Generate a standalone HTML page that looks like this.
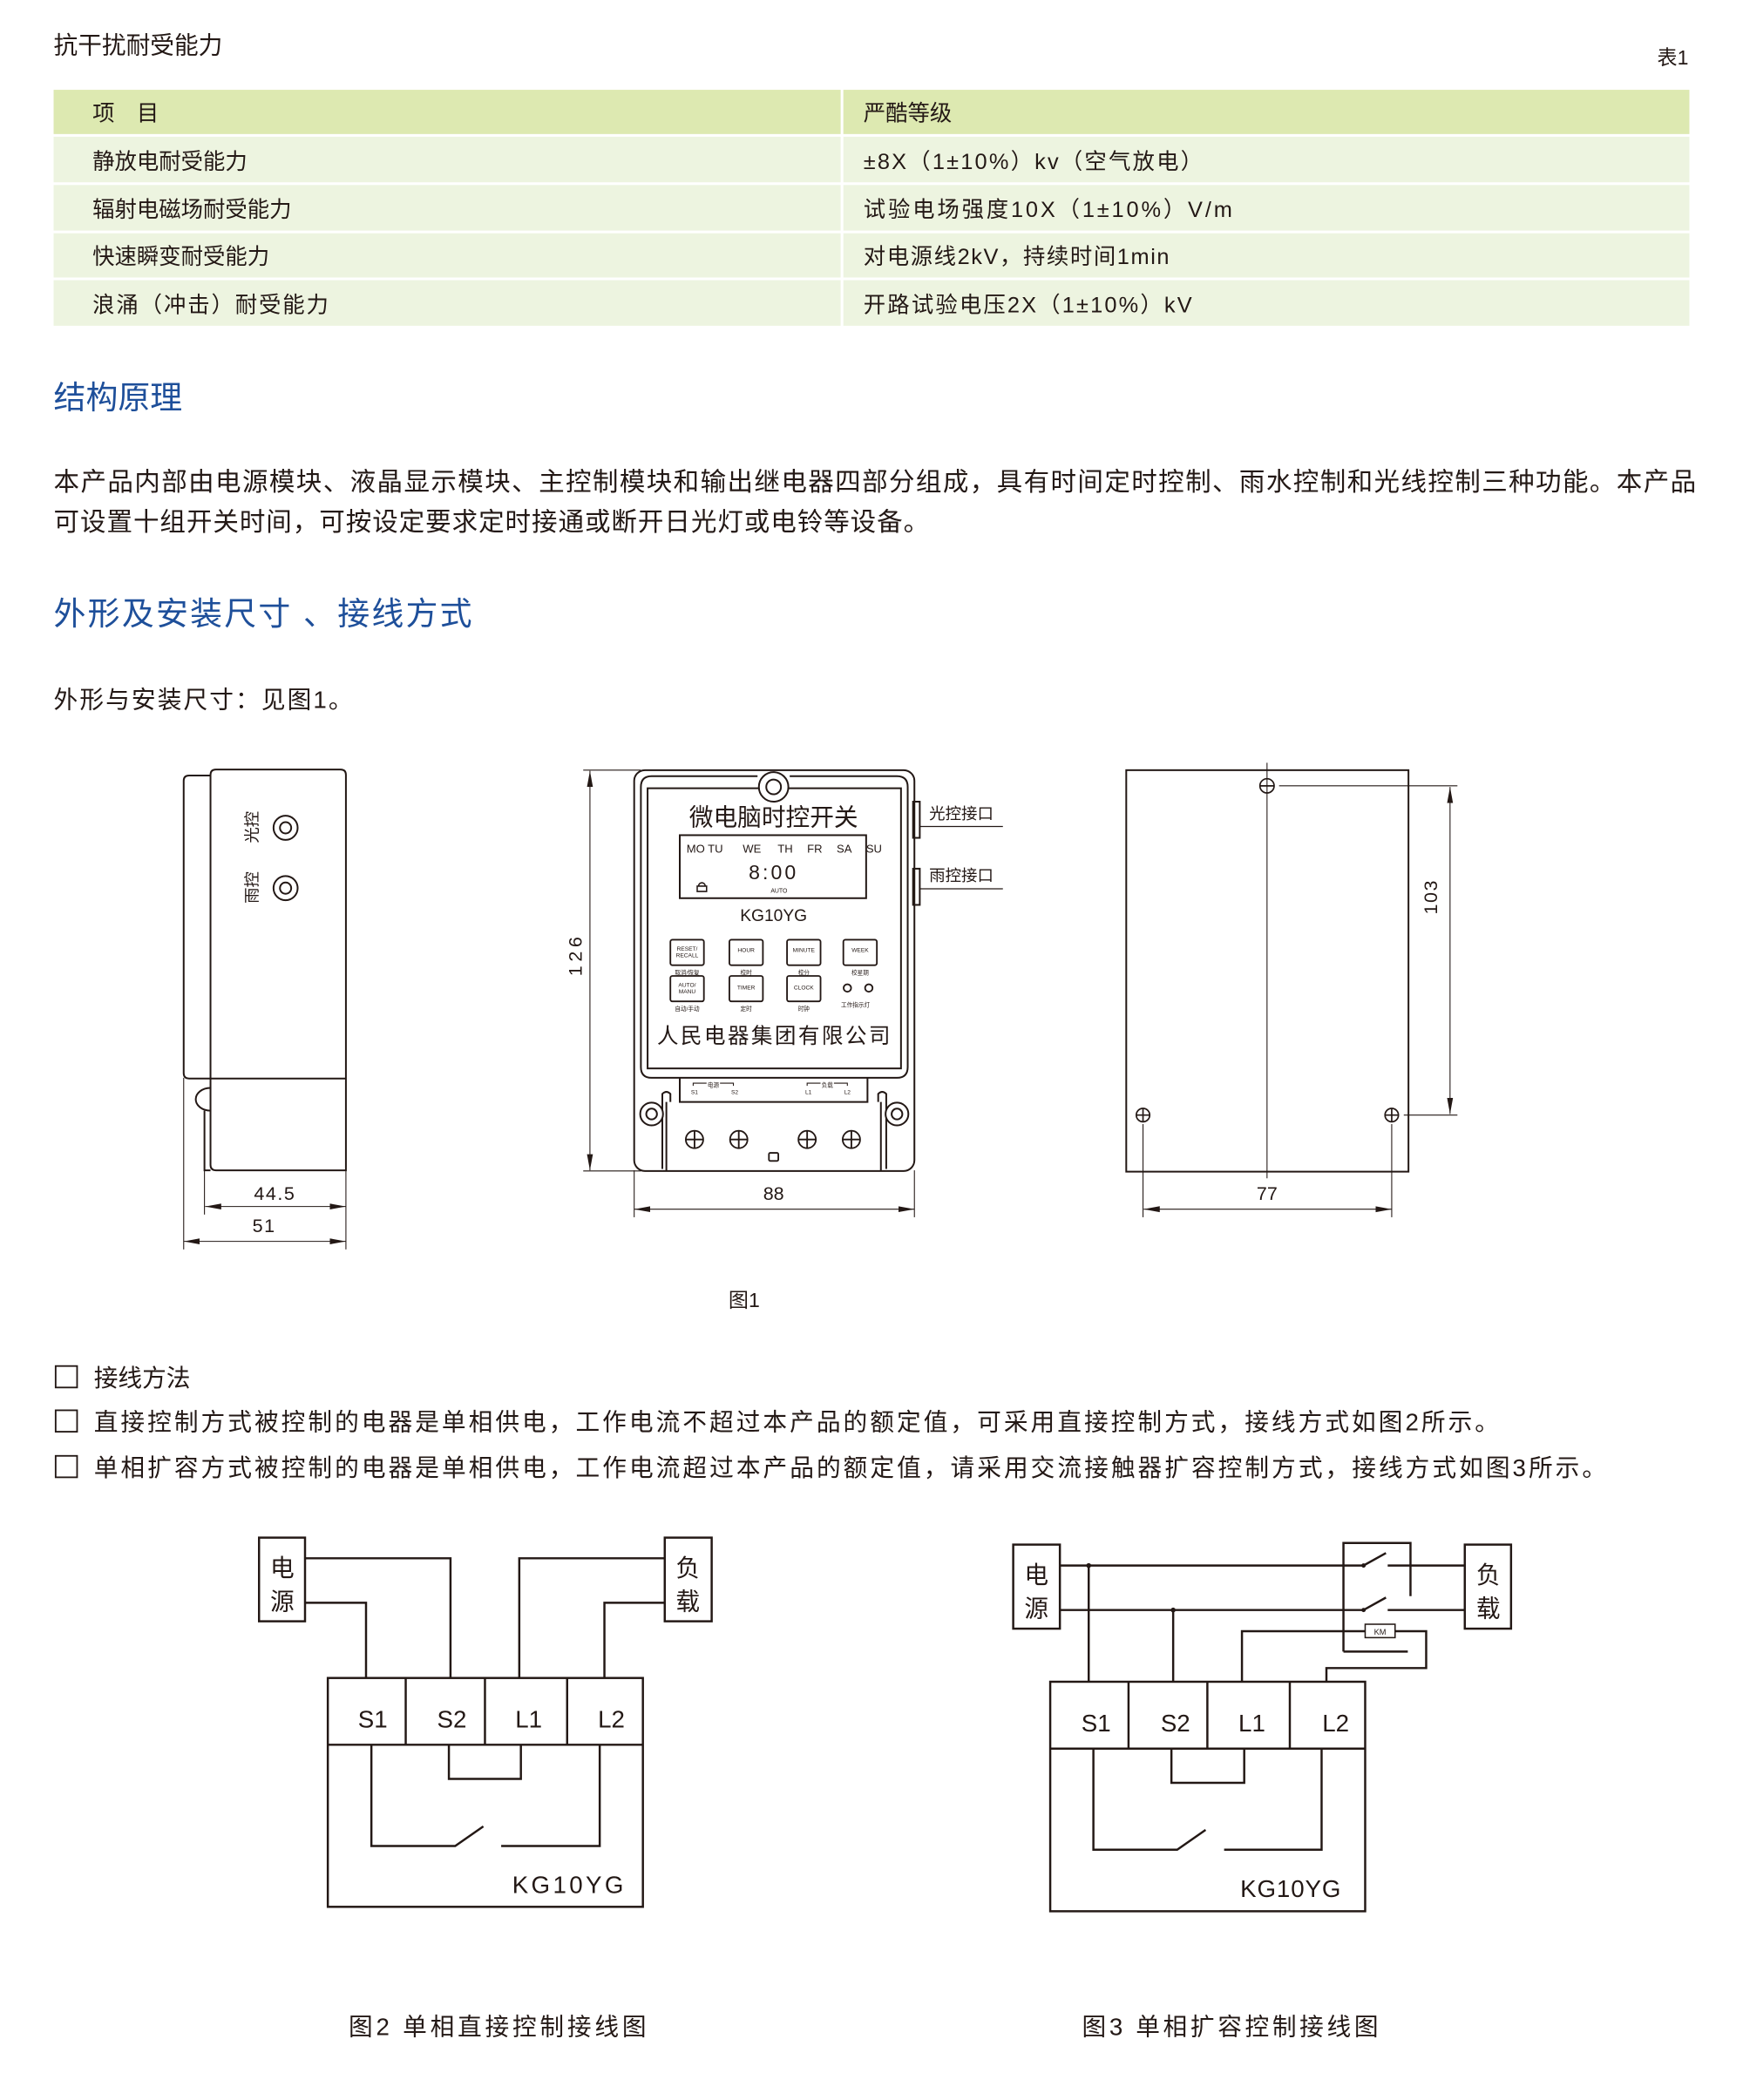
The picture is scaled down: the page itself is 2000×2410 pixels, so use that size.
<!DOCTYPE html>
<html><head><meta charset="utf-8"><style>
html,body{margin:0;padding:0;background:#fff;}
svg{display:block;}
text{font-family:"Liberation Sans","Noto Sans CJK SC",sans-serif;fill:#231815;}
</style></head><body>
<svg width="2000" height="2410" viewBox="0 0 1300 1566.5" xmlns="http://www.w3.org/2000/svg">
<defs>
<marker id="ar" viewBox="0 0 12 6" refX="12" refY="3" markerWidth="12" markerHeight="6" markerUnits="userSpaceOnUse" orient="auto-start-reverse"><path d="M0,0.8 L12,3 L0,5.2 Z" fill="#231815"/></marker>
</defs>

<text x="40" y="40" font-size="18">抗干扰耐受能力</text>
<text x="1236" y="48" font-size="15">表1</text>

<rect x="40" y="67" width="587" height="33" fill="#dde9b1"/>
<rect x="629" y="67" width="631" height="33" fill="#dde9b1"/>
<g fill="#edf4e0">
<rect x="40" y="102" width="587" height="34"/><rect x="629" y="102" width="631" height="34"/>
<rect x="40" y="138" width="587" height="34"/><rect x="629" y="138" width="631" height="34"/>
<rect x="40" y="174" width="587" height="33"/><rect x="629" y="174" width="631" height="33"/>
<rect x="40" y="209" width="587" height="34"/><rect x="629" y="209" width="631" height="34"/>
</g>
<g font-size="16.5">
<text x="69" y="90">项　目</text><text x="644" y="90">严酷等级</text>
<text x="69" y="126">静放电耐受能力</text><text x="644" y="126" textLength="253">±8X（1±10%）kv（空气放电）</text>
<text x="69" y="162">辐射电磁场耐受能力</text><text x="644" y="162" textLength="275">试验电场强度10X（1±10%）V/m</text>
<text x="69" y="197">快速瞬变耐受能力</text><text x="644" y="197" textLength="228">对电源线2kV，持续时间1min</text>
<text x="69" y="233" textLength="176">浪涌（冲击）耐受能力</text><text x="644" y="233" textLength="245">开路试验电压2X（1±10%）kV</text>
</g>

<text x="40" y="305" font-size="24" style="fill:#1e4f9a">结构原理</text>
<text x="40" y="366" font-size="19.2" textLength="1225">本产品内部由电源模块、液晶显示模块、主控制模块和输出继电器四部分组成，具有时间定时控制、雨水控制和光线控制三种功能。本产品</text>
<text x="40" y="396" font-size="19.2" textLength="653">可设置十组开关时间，可按设定要求定时接通或断开日光灯或电铃等设备。</text>
<text x="40" y="466" font-size="24" style="fill:#1e4f9a" textLength="312">外形及安装尺寸 、接线方式</text>
<text x="40" y="528" font-size="18" textLength="223">外形与安装尺寸：见图1。</text>

<g fill="none" stroke="#231815" stroke-width="1.3">
<path d="M157,578.5 H141 Q137,578.5 137,582.5 V800.5 Q137,804.5 141,804.5 H258"/>
<path d="M161,574 H254 Q258,574 258,578 V873 H161 Q157,873 157,869 V578 Q157,574 161,574 Z"/>
<path d="M157,811.5 A11,8.5 0 0,0 157,828.5"/>
<path d="M152.5,828.5 V873 H157"/>
<circle cx="213" cy="617.5" r="9"/><circle cx="213" cy="617.5" r="4.2"/>
<circle cx="213" cy="662.5" r="9"/><circle cx="213" cy="662.5" r="4.2"/>
<g stroke-width="0.7">
<line x1="137" y1="804" x2="137" y2="932"/><line x1="152.5" y1="873" x2="152.5" y2="906"/><line x1="258" y1="873" x2="258" y2="932"/>
<line x1="153" y1="900" x2="258" y2="900" marker-start="url(#ar)" marker-end="url(#ar)"/>
<line x1="137" y1="926" x2="258" y2="926" marker-start="url(#ar)" marker-end="url(#ar)"/>
</g>

<rect x="473" y="574.5" width="209" height="299" rx="8"/>
<path d="M486,579 H565 M589,579 H669 Q677,579 677,587 V796 Q677,804 669,804 H486 Q478,804 478,796 V587 Q478,579 486,579"/>
<rect x="483" y="588" width="189" height="209"/>
<circle cx="577" cy="587" r="11" fill="#fff"/><circle cx="577" cy="587" r="5.5"/>
<rect x="507" y="623" width="139" height="47"/>
<rect x="681" y="598" width="5" height="27"/><rect x="681" y="648" width="5" height="27"/>
<line x1="686" y1="616.5" x2="748" y2="616.5" stroke-width="0.8"/>
<line x1="686" y1="663" x2="748" y2="663" stroke-width="0.8"/>
<g stroke-width="1.2">
<rect x="500" y="701" width="25" height="19" rx="1.5"/><rect x="544" y="701" width="25" height="19" rx="1.5"/>
<rect x="587" y="701" width="25" height="19" rx="1.5"/><rect x="629" y="701" width="25" height="19" rx="1.5"/>
<rect x="500" y="728" width="25" height="19" rx="1.5"/><rect x="544" y="728" width="25" height="19" rx="1.5"/>
<rect x="587" y="728" width="25" height="19" rx="1.5"/>
<circle cx="632" cy="737" r="2.8"/><circle cx="648" cy="737" r="2.8"/>
</g>
<path d="M521,661 a2.5,2.5 0 0,1 5,0 M520,661 h7 v4 h-7 z" stroke-width="1"/>
<path d="M507,804 V822 H647 V804"/>
<path d="M497,822 V873 M657,822 V873"/>
<path d="M494,872 V816 Q497,813 500,816 V822" />
<path d="M661,872 V816 Q658,813 655,816 V822" />
<circle cx="486" cy="831" r="8.5" fill="#fff"/><circle cx="486" cy="831" r="4"/>
<circle cx="669" cy="831" r="8.5" fill="#fff"/><circle cx="669" cy="831" r="4"/>
<g stroke-width="1.2">
<circle cx="518" cy="850" r="6.5"/><path d="M511.5,850 H524.5 M518,843.5 V856.5"/>
<circle cx="551" cy="850" r="6.5"/><path d="M544.5,850 H557.5 M551,843.5 V856.5"/>
<circle cx="602" cy="850" r="6.5"/><path d="M595.5,850 H608.5 M602,843.5 V856.5"/>
<circle cx="635" cy="850" r="6.5"/><path d="M628.5,850 H641.5 M635,843.5 V856.5"/>
<rect x="573.5" y="860" width="7" height="6" rx="1"/>
</g>
<path d="M517,810 V808 H527 M537,808 H547 V810 M602,810 V808 H612 M622,808 H632 V810" stroke-width="0.7"/>
<g stroke-width="0.7">
<line x1="435" y1="574.5" x2="478" y2="574.5"/><line x1="435" y1="873.5" x2="478" y2="873.5"/>
<line x1="440" y1="575" x2="440" y2="873" marker-start="url(#ar)" marker-end="url(#ar)"/>
<line x1="473" y1="873" x2="473" y2="908"/><line x1="682" y1="873" x2="682" y2="908"/>
<line x1="473" y1="902" x2="682" y2="902" marker-start="url(#ar)" marker-end="url(#ar)"/>
</g>

<rect x="840" y="574.5" width="210.5" height="299.5"/>
<g stroke-width="1.1">
<circle cx="945" cy="586.2" r="5.3"/><path d="M939.7,586.2 H950.3"/>
<circle cx="852.5" cy="831.8" r="5"/><path d="M847.5,831.8 H857.5 M852.5,826.8 V836.8"/>
<circle cx="1038" cy="831.8" r="5"/><path d="M1033,831.8 H1043 M1038,826.8 V836.8"/>
</g>
<g stroke-width="0.7">
<line x1="945" y1="569" x2="945" y2="879"/>
<line x1="954" y1="586.2" x2="1087" y2="586.2"/><line x1="1047" y1="831.8" x2="1087" y2="831.8"/>
<line x1="1081.5" y1="587" x2="1081.5" y2="831" marker-start="url(#ar)" marker-end="url(#ar)"/>
<line x1="852.5" y1="838.5" x2="852.5" y2="908"/><line x1="1038" y1="838.5" x2="1038" y2="908"/>
<line x1="853" y1="902" x2="1038" y2="902" marker-start="url(#ar)" marker-end="url(#ar)"/>
</g>
</g>

<text transform="translate(192,617) rotate(-90)" font-size="12" text-anchor="middle">光控</text>
<text transform="translate(192,662) rotate(-90)" font-size="12" text-anchor="middle">雨控</text>
<text x="205" y="895" font-size="14" text-anchor="middle" letter-spacing="1">44.5</text>
<text x="197" y="919" font-size="14" text-anchor="middle" letter-spacing="1">51</text>
<text x="577" y="616" font-size="18" text-anchor="middle">微电脑时控开关</text>
<text x="512" y="636" font-size="8.5">MO TU</text>
<text x="554" y="636" font-size="8.5">WE</text>
<text x="580" y="636" font-size="8.5">TH</text>
<text x="602" y="636" font-size="8.5">FR</text>
<text x="624" y="636" font-size="8.5">SA</text>
<text x="646" y="636" font-size="8.5">SU</text>
<text x="577" y="656" font-size="15" text-anchor="middle" letter-spacing="2">8:00</text>
<text x="581" y="666" font-size="4.5" text-anchor="middle">AUTO</text>
<text x="577" y="687" font-size="12.5" text-anchor="middle">KG10YG</text>
<g font-size="4.3" text-anchor="middle">
<text x="512.5" y="709">RESET/</text><text x="512.5" y="714">RECALL</text>
<text x="556.5" y="710">HOUR</text><text x="599.5" y="710">MINUTE</text><text x="641.5" y="710">WEEK</text>
<text x="512.5" y="736">AUTO/</text><text x="512.5" y="741">MANU</text>
<text x="556.5" y="738">TIMER</text><text x="599.5" y="738">CLOCK</text>
<text x="512.5" y="727">取消/恢复</text><text x="556.5" y="727">校时</text><text x="599.5" y="727">校分</text><text x="641.5" y="727">校星期</text>
<text x="512.5" y="754">自动/手动</text><text x="556.5" y="754">定时</text><text x="599.5" y="754">时钟</text><text x="638" y="751">工作指示灯</text>
<text x="532" y="811">电源</text><text x="617" y="811">负载</text>
<text x="518" y="816">S1</text><text x="548" y="816">S2</text><text x="603" y="816">L1</text><text x="632" y="816">L2</text>
</g>
<text x="577" y="778" font-size="16" text-anchor="middle" textLength="174">人民电器集团有限公司</text>
<text x="693" y="611" font-size="12">光控接口</text>
<text x="693" y="657" font-size="12">雨控接口</text>
<text transform="translate(434,712) rotate(-90)" font-size="14" text-anchor="middle" letter-spacing="3">126</text>
<text x="577" y="895" font-size="14" text-anchor="middle">88</text>
<text transform="translate(1072,669) rotate(-90)" font-size="14" text-anchor="middle" letter-spacing="1">103</text>
<text x="945" y="895" font-size="14" text-anchor="middle">77</text>
<text x="555" y="975" font-size="15" text-anchor="middle">图1</text>

<g fill="none" stroke="#231815" stroke-width="1.2">
<rect x="41.5" y="1019" width="16" height="16"/><rect x="41.5" y="1052" width="16" height="16"/><rect x="41.5" y="1086" width="16" height="16"/>
</g>
<g font-size="18">
<text x="70" y="1034">接线方法</text>
<text x="70" y="1067" textLength="1048">直接控制方式被控制的电器是单相供电，工作电流不超过本产品的额定值，可采用直接控制方式，接线方式如图2所示。</text>
<text x="70" y="1101" textLength="1128">单相扩容方式被控制的电器是单相供电，工作电流超过本产品的额定值，请采用交流接触器扩容控制方式，接线方式如图3所示。</text>
</g>

<g fill="none" stroke="#231815" stroke-width="1.6">
<rect x="193.2" y="1147" width="34.3" height="62.4"/>
<rect x="495.8" y="1147" width="35" height="62.4"/>
<path d="M227.5,1162.4 H336 V1251.7 M227.5,1195.6 H273 V1251.7 M495.8,1162.4 H387.3 V1251.7 M495.8,1195.6 H450.8 V1251.7"/>
<rect x="244.5" y="1251.7" width="235" height="170.7"/>
<path d="M244.5,1301.5 H479.5 M302.6,1251.7 V1301.5 M361.7,1251.7 V1301.5 M423,1251.7 V1301.5"/>
<path d="M334.8,1301.5 V1327 H388.5 V1301.5"/>
<path d="M277,1301.5 V1377 H339.5 L360.5,1362.4 M373.8,1377 H447.3 V1301.5"/>
</g>
<g font-size="18">
<text x="210.5" y="1176" text-anchor="middle">电</text><text x="210.5" y="1201" text-anchor="middle">源</text>
<text x="513" y="1176" text-anchor="middle">负</text><text x="513" y="1201" text-anchor="middle">载</text>
<text x="278" y="1288.5" text-anchor="middle">S1</text><text x="337" y="1288.5" text-anchor="middle">S2</text>
<text x="394.3" y="1288.5" text-anchor="middle">L1</text><text x="456" y="1288.5" text-anchor="middle">L2</text>
<text x="382" y="1412" textLength="83">KG10YG</text>
<text x="260" y="1518" textLength="222">图2 单相直接控制接线图</text>
</g>

<g fill="none" stroke="#231815" stroke-width="1.6">
<rect x="755.7" y="1152.2" width="34.8" height="62.7"/>
<rect x="1092.5" y="1152.2" width="34.5" height="62.7"/>
<path d="M790.5,1167.8 H1017 L1033.7,1158.5 M1035,1167.8 H1092.5"/>
<path d="M790.5,1201 H1017 L1033.7,1191.7 M1035,1201 H1092.5"/>
<path d="M1002,1232 V1151 H1052 V1190.6 M1002,1232 H1050"/>
<path d="M812,1167.8 V1254.5 M875,1201 V1254.5"/>
<path d="M926.3,1254.5 V1216.8 H1018.2 M1040.5,1216.8 H1063.7 V1244.3 H989.3 V1254.5"/>
<rect x="783.3" y="1254.5" width="234.9" height="171.2"/>
<path d="M783.3,1304.4 H1018.2 M841.7,1254.5 V1304.4 M900.5,1254.5 V1304.4 M962,1254.5 V1304.4"/>
<path d="M873.7,1304.4 V1329.9 H928 V1304.4"/>
<path d="M815.5,1304.4 V1379.8 H878 L899.2,1365 M913,1379.8 H985.7 V1304.4"/>
</g>
<rect x="1018.2" y="1211.6" width="22.3" height="10" fill="#fff" stroke="#231815" stroke-width="1"/>
<circle cx="812" cy="1167.8" r="1.8" fill="#231815"/><circle cx="875" cy="1201" r="1.8" fill="#231815"/>
<circle cx="1017" cy="1167.8" r="1.6" fill="#231815"/><circle cx="1017" cy="1201" r="1.6" fill="#231815"/>
<text x="1029.3" y="1219.5" font-size="6" text-anchor="middle">KM</text>
<g font-size="18">
<text x="773" y="1181" text-anchor="middle">电</text><text x="773" y="1206" text-anchor="middle">源</text>
<text x="1110" y="1181" text-anchor="middle">负</text><text x="1110" y="1206" text-anchor="middle">载</text>
<text x="817.5" y="1291.4" text-anchor="middle">S1</text><text x="876.7" y="1291.4" text-anchor="middle">S2</text>
<text x="933.7" y="1291.4" text-anchor="middle">L1</text><text x="996.2" y="1291.4" text-anchor="middle">L2</text>
<text x="925" y="1415" textLength="75">KG10YG</text>
<text x="807" y="1518" textLength="221">图3 单相扩容控制接线图</text>
</g>
</svg>
</body></html>
